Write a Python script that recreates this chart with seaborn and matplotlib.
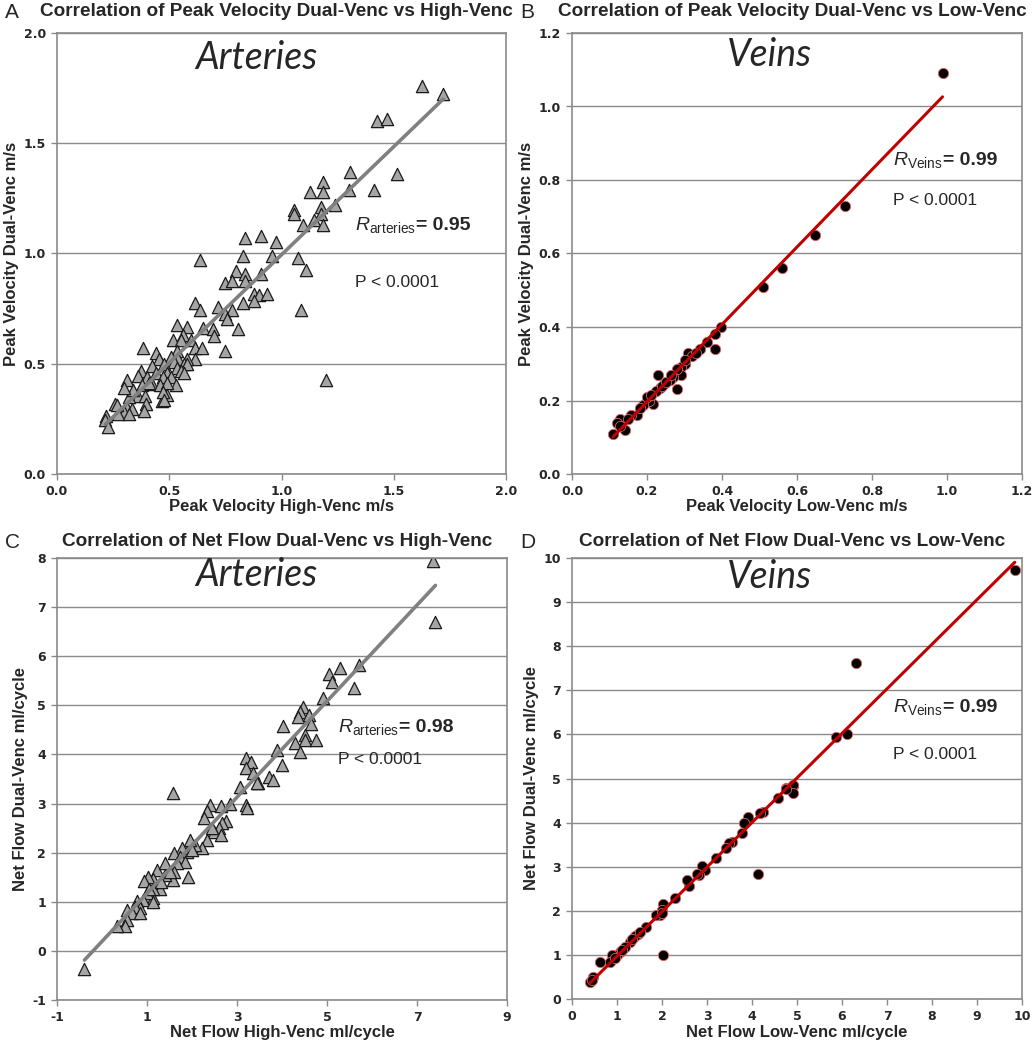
import matplotlib
matplotlib.use("Agg")
import matplotlib.pyplot as plt
import numpy as np
import seaborn as sns

# Panel A: peak velocity, arteries (high-venc vs dual-venc), m/s
a_high = [1.627, 1.72, 1.427, 1.47, 1.307, 1.514, 1.30, 1.41, 1.185, 1.129, 1.185, 1.237,
          1.055, 1.055, 1.176, 1.176, 1.144, 1.096, 1.185, 0.837, 0.907, 0.976, 0.636, 0.828,
          0.958, 1.074, 1.108, 0.799, 0.837, 0.907, 0.747, 0.778, 0.837, 0.877, 0.899, 0.936,
          0.877, 0.828, 0.616, 0.636, 0.719, 0.778, 1.089, 0.747, 0.759, 0.536, 0.578, 0.65,
          0.695, 0.807, 0.563, 0.699, 0.518, 0.551, 0.596, 0.615, 0.647, 0.748, 0.385, 0.44,
          0.536, 0.613, 0.578, 0.54, 0.507, 0.455, 0.52, 0.567, 0.425, 0.477, 0.578, 0.536,
          0.373, 0.44, 0.49, 0.551, 0.359, 0.40, 0.47, 0.51, 0.565, 0.314, 0.38, 0.425,
          0.46, 0.53, 0.49, 0.33, 0.36, 0.392, 0.49, 0.466, 0.322, 0.34, 0.47, 0.26,
          0.314, 0.336, 0.395, 0.388, 0.30, 0.27, 0.322, 0.218, 0.215, 0.228, 0.267, 0.30,
          0.41, 1.199, 0.477]
a_dual = [1.76, 1.725, 1.60, 1.61, 1.368, 1.36, 1.29, 1.29, 1.324, 1.279, 1.279, 1.218,
          1.199, 1.177, 1.21, 1.18, 1.15, 1.13, 1.13, 1.07, 1.08, 1.05, 0.971, 0.99,
          0.99, 0.98, 0.927, 0.92, 0.908, 0.908, 0.867, 0.874, 0.874, 0.817, 0.81, 0.817,
          0.786, 0.776, 0.776, 0.744, 0.756, 0.744, 0.744, 0.726, 0.703, 0.677, 0.668, 0.662,
          0.658, 0.658, 0.632, 0.627, 0.608, 0.608, 0.608, 0.571, 0.571, 0.559, 0.571, 0.549,
          0.559, 0.521, 0.521, 0.521, 0.529, 0.521, 0.506, 0.498, 0.49, 0.499, 0.499, 0.48,
          0.468, 0.46, 0.46, 0.468, 0.445, 0.44, 0.44, 0.44, 0.46, 0.427, 0.405, 0.41,
          0.405, 0.405, 0.412, 0.36, 0.356, 0.356, 0.36, 0.33, 0.35, 0.38, 0.37, 0.318,
          0.30, 0.297, 0.318, 0.284, 0.28, 0.27, 0.27, 0.263, 0.244, 0.215, 0.314, 0.39,
          0.412, 0.426, 0.336]

# Panel B: peak velocity, veins (low-venc vs dual-venc), m/s
b_low = [0.988, 0.728, 0.648, 0.559, 0.51, 0.397, 0.38, 0.38, 0.359, 0.34, 0.31, 0.32,
         0.30, 0.29, 0.29, 0.28, 0.23, 0.28, 0.27, 0.26, 0.247, 0.235, 0.224, 0.217,
         0.204, 0.188, 0.172, 0.157, 0.128, 0.119, 0.14, 0.109, 0.128, 0.20, 0.21, 0.24,
         0.18, 0.15, 0.25, 0.265, 0.30, 0.33]
b_dual = [1.09, 0.73, 0.65, 0.56, 0.508, 0.399, 0.38, 0.34, 0.36, 0.34, 0.33, 0.32,
          0.30, 0.29, 0.27, 0.285, 0.27, 0.23, 0.263, 0.255, 0.247, 0.235, 0.225, 0.19,
          0.20, 0.187, 0.16, 0.16, 0.15, 0.14, 0.12, 0.11, 0.13, 0.21, 0.215, 0.24,
          0.18, 0.15, 0.25, 0.27, 0.31, 0.33]

# Panel C: net flow, arteries (high-venc vs dual-venc), ml/cycle
c_high = [7.36, 7.41, 5.70, 5.29, 5.04, 5.10, 5.61, 4.92, 4.47, 4.40, 4.35, 4.60,
          4.64, 4.03, 4.52, 4.52, 4.75, 4.29, 3.88, 4.40, 4.01, 3.20, 3.30, 3.20,
          3.36, 3.72, 3.80, 3.47, 1.57, 2.40, 2.65, 2.84, 3.19, 3.23, 3.07, 3.45,
          2.33, 2.26, 2.76, 2.67, 2.60, 2.48, 2.65, 2.33, 2.22, 2.07, 1.96, 1.88,
          1.77, 1.59, 1.73, 1.84, 1.66, 1.91, 1.59, 1.57, 1.40, 1.22, 1.40, 1.14,
          1.03, 0.93, 1.29, 1.14, 1.14, 0.99, 0.92, 0.77, 1.14, 0.84, 0.73, 0.55,
          0.66, 0.84, 0.55, 0.51, 0.33, -0.39, 2.0, 1.5, 1.3, 1.05, 2.45]
c_dual = [7.93, 6.69, 5.82, 5.77, 5.64, 5.48, 5.35, 5.14, 4.97, 4.87, 4.77, 4.80,
          4.63, 4.57, 4.40, 4.30, 4.30, 4.24, 4.09, 4.04, 3.79, 3.92, 3.85, 3.72,
          3.62, 3.55, 3.48, 3.41, 3.21, 2.97, 2.96, 2.99, 2.98, 2.90, 3.34, 3.41,
          2.84, 2.70, 2.64, 2.60, 2.50, 2.43, 2.36, 2.26, 2.09, 2.16, 2.26, 2.02,
          2.09, 1.99, 1.92, 1.82, 1.79, 1.51, 1.61, 1.45, 1.55, 1.65, 1.79, 1.47,
          1.51, 1.43, 1.26, 1.26, 1.08, 1.17, 1.04, 1.01, 1.00, 0.87, 0.90, 0.83,
          0.77, 0.77, 0.63, 0.50, 0.50, -0.37, 2.05, 1.6, 1.4, 1.25, 2.5]

# Panel D: net flow, veins (low-venc vs dual-venc), ml/cycle
d_low = [9.84, 6.30, 5.86, 6.10, 4.75, 4.92, 4.92, 4.91, 4.76, 4.57, 4.25, 4.18,
         3.92, 3.82, 3.77, 3.55, 3.49, 3.42, 3.20, 2.96, 2.88, 2.83, 2.77, 2.59,
         2.55, 4.14, 2.29, 2.03, 2.01, 1.96, 1.87, 1.64, 1.47, 1.40, 1.29, 1.18,
         1.07, 1.00, 0.88, 0.84, 0.63, 0.96, 2.03, 0.47, 0.40, 0.45, 1.52, 1.33,
         1.12, 2.00]
d_dual = [9.73, 7.61, 5.93, 6.00, 4.79, 4.83, 4.85, 4.68, 4.76, 4.55, 4.25, 4.21,
          4.13, 4.00, 3.76, 3.57, 3.53, 3.42, 3.19, 2.93, 3.02, 2.81, 2.84, 2.56,
          2.70, 2.83, 2.29, 2.16, 2.01, 1.90, 1.90, 1.64, 1.48, 1.42, 1.29, 1.18,
          1.07, 0.99, 0.99, 0.84, 0.84, 0.92, 0.99, 0.49, 0.38, 0.42, 1.53, 1.35,
          1.10, 1.95]

sns.set_style("white")
plt.rcParams['font.family'] = ['Liberation Sans', 'DejaVu Sans']
plt.rcParams['mathtext.fontset'] = 'custom'
plt.rcParams['mathtext.rm'] = 'Liberation Sans'
plt.rcParams['mathtext.it'] = 'Liberation Sans:italic'
plt.rcParams['mathtext.bf'] = 'Liberation Sans:bold'

fig = plt.figure(figsize=(10.33, 10.5), dpi=100)

W, H = 1033.0, 1050.0


def make_ax(left, top, right, bottom):
    return fig.add_axes([left / W, 1 - bottom / H, (right - left) / W, (bottom - top) / H])


art = dict(marker="^", ci=None,
           scatter_kws={'s': 78, 'color': '#a5a5a5', 'edgecolor': '#1a1a1a',
                        'linewidths': 0.9, 'alpha': 1},
           line_kws={'color': '#808080', 'lw': 2.6})
vein = dict(marker="o", ci=None,
            scatter_kws={'s': 55, 'color': 'black', 'edgecolor': '#e06060',
                         'linewidths': 0.6, 'alpha': 1},
            line_kws={'color': '#c00000', 'lw': 2.2})

panels = [
    dict(box=(57, 33, 506, 474), x=a_high, y=a_dual, kw=art,
         xlim=(0, 2), ylim=(0, 2), xt=np.arange(0, 2.01, 0.5), yt=np.arange(0, 2.01, 0.5), fmt="{:.1f}",
         xl="Peak Velocity High-Venc m/s", yl="Peak Velocity Dual-Venc m/s",
         title="Correlation of Peak Velocity Dual-Venc vs High-Venc", letter="A", ty=12,
         name="Arteries", npos=(0.443, 0.943), sub="arteries", r="0.95",
         rpos=(0.664, 0.553), ppos=(0.664, 0.435)),
    dict(box=(572, 33, 1022, 474), x=b_low, y=b_dual, kw=vein,
         xlim=(0, 1.2), ylim=(0, 1.2), xt=np.arange(0, 1.21, 0.2), yt=np.arange(0, 1.21, 0.2), fmt="{:.1f}",
         xl="Peak Velocity Low-Venc m/s", yl="Peak Velocity Dual-Venc m/s",
         title="Correlation of Peak Velocity Dual-Venc vs Low-Venc", letter="B", ty=12,
         name="Veins", npos=(0.438, 0.95), sub="Veins", r="0.99",
         rpos=(0.713, 0.701), ppos=(0.713, 0.621)),
    dict(box=(57, 558, 507, 1000), x=c_high, y=c_dual, kw=art,
         xlim=(-1, 9), ylim=(-1, 8), xt=np.arange(-1, 10, 2), yt=np.arange(-1, 9, 1), fmt="{:.0f}",
         xl="Net Flow High-Venc ml/cycle", yl="Net Flow Dual-Venc ml/cycle",
         title="Correlation of Net Flow Dual-Venc vs High-Venc", letter="C", ty=542,
         name="Arteries", npos=(0.443, 0.962), sub="arteries", r="0.98",
         rpos=(0.624, 0.606), ppos=(0.624, 0.543)),
    dict(box=(572, 558, 1022, 999), x=d_low, y=d_dual, kw=vein,
         xlim=(0, 10), ylim=(0, 10), xt=np.arange(0, 11, 1), yt=np.arange(0, 11, 1), fmt="{:.0f}",
         xl="Net Flow Low-Venc ml/cycle", yl="Net Flow Dual-Venc ml/cycle",
         title="Correlation of Net Flow Dual-Venc vs Low-Venc", letter="D", ty=542,
         name="Veins", npos=(0.438, 0.957), sub="Veins", r="0.99",
         rpos=(0.713, 0.651), ppos=(0.713, 0.554)),
]

for p in panels:
    l, t, r, b = p['box']
    ax = make_ax(l, t, r, b)
    sns.regplot(x=np.array(p['x']), y=np.array(p['y']), ax=ax, **p['kw'])
    ax.set_xlim(*p['xlim'])
    ax.set_ylim(*p['ylim'])
    ax.set_xticks(p['xt'])
    ax.set_yticks(p['yt'])
    ax.set_xticklabels([p['fmt'].format(v) for v in p['xt']], family='DejaVu Sans',
                       fontweight='bold', fontsize=9)
    ax.set_yticklabels([p['fmt'].format(v) for v in p['yt']], family='DejaVu Sans',
                       fontweight='bold', fontsize=9)
    ax.yaxis.grid(True, color='#8a8a8a', lw=1)
    ax.xaxis.grid(False)
    ax.set_axisbelow(True)
    for s in ax.spines.values():
        s.set_color('#8a8a8a')
        s.set_linewidth(1.2)
    ax.tick_params(axis='both', bottom=True, left=True, direction='out', length=4,
                   width=1, color='#8a8a8a', pad=4)
    ax.set_xlabel(p['xl'], fontsize=12, fontweight='bold', labelpad=1)
    ax.set_ylabel(p['yl'], fontsize=12, fontweight='bold', labelpad=3)

    ax.text(*p['npos'], p['name'], transform=ax.transAxes, ha='center', va='center',
            fontsize=27, style='italic', family=['Lato', 'Open Sans', 'DejaVu Sans'])
    # R label: italic R with subscript, then bold value right after it
    rt = ax.text(*p['rpos'], r"$\mathit{R}_{\mathrm{" + p['sub'] + "}}$",
                 transform=ax.transAxes, ha='left', va='baseline', fontsize=14)
    ax.annotate("= " + p['r'], xy=(1, p['rpos'][1]), xycoords=(rt, 'axes fraction'),
                ha='left', va='baseline', fontsize=14, fontweight='bold')
    ax.text(p['ppos'][0], p['ppos'][1], "P < 0.0001", transform=ax.transAxes, ha='left',
            va='center', fontsize=12.5)

    fig.text(((l + r) / 2 - 5) / W, 1 - p['ty'] / H, p['title'], ha='center', va='center',
             fontsize=13.7, fontweight='bold')
    fig.text((l - 52) / W, 1 - p['ty'] / H, p['letter'], ha='left', va='center', fontsize=15)

fig.savefig("out.png", dpi=100)
